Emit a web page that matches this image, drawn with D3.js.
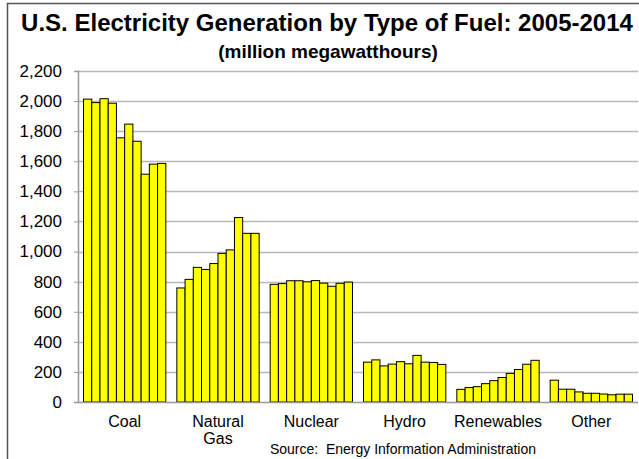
<!DOCTYPE html>
<html>
<head>
<meta charset="utf-8">
<script src="https://cdn.jsdelivr.net/npm/d3@7"></script>
<style>
  html, body { margin: 0; padding: 0; background: #fff; }
  svg { display: block; font-family: "Liberation Sans", Arial, sans-serif; }
</style>
</head>
<body>
<svg id="chart" width="639" height="459"></svg>
<script>
const titleText = "U.S. Electricity Generation by Type of Fuel: 2005-2014";
const subtitleText = "(million megawatthours)";
const sourceText = "Source:  Energy Information Administration";

const categories = ["Coal", "Natural Gas", "Nuclear", "Hydro", "Renewables", "Other"];
const categoryLines = [["Coal"], ["Natural", "Gas"], ["Nuclear"], ["Hydro"], ["Renewables"], ["Other"]];
const years = [2005, 2006, 2007, 2008, 2009, 2010, 2011, 2012, 2013, 2014];

const coal       = [2013, 1990, 2016, 1986, 1756, 1847, 1733, 1514, 1581, 1586];
const naturalGas = [ 758,  815,  895,  881,  920,  988, 1011, 1226, 1121, 1121];
const nuclear    = [ 782,  787,  806,  806,  799,  807,  790,  769,  789,  797];
const hydro      = [ 265,  280,  240,  252,  268,  254,  310,  265,  263,  250];
const renewables = [  84,   96,  102,  122,  142,  163,  190,  216,  251,  277];
const other      = [ 145,   85,   85,   67,   58,   58,   53,   48,   52,   52];

const seriesByCategory = [coal, naturalGas, nuclear, hydro, renewables, other];
const yTicks = [0, 200, 400, 600, 800, 1000, 1200, 1400, 1600, 1800, 2000, 2200];

const svg = d3.select("#chart");

// outer frame
svg.append("rect")
  .attr("x", 7.5).attr("y", 3.5)
  .attr("width", 700).attr("height", 520)
  .attr("fill", "none").attr("stroke", "#555").attr("stroke-width", 1.5);

// titles
svg.append("text").text(titleText)
  .attr("x", 327).attr("y", 31)
  .attr("text-anchor", "middle")
  .attr("font-size", 24).attr("font-weight", "bold").attr("fill", "#000");
svg.append("text").text(subtitleText)
  .attr("x", 328).attr("y", 58)
  .attr("text-anchor", "middle")
  .attr("font-size", 19).attr("font-weight", "bold").attr("fill", "#000");

const plotLeft = 78, plotRight = 638, plotTop = 71, plotBottom = 402;

const y = d3.scaleLinear().domain([0, 2200]).range([plotBottom, plotTop]);
const x0 = d3.scaleBand().domain(categories).range([plotLeft, plotRight])
  .paddingInner(0.118).paddingOuter(0.059);
const x1 = d3.scaleBand().domain(years).range([0, x0.bandwidth()]).padding(0);

// gridlines
svg.append("g")
  .selectAll("line")
  .data(yTicks.filter(d => d > 0))
  .join("line")
  .attr("x1", plotLeft).attr("x2", plotRight)
  .attr("y1", d => Math.round(y(d)) + 0.5).attr("y2", d => Math.round(y(d)) + 0.5)
  .attr("stroke", "#b8b8b8").attr("stroke-width", 1.5);

// bars
const groups = svg.append("g")
  .selectAll("g")
  .data(categories)
  .join("g")
  .attr("transform", d => `translate(${x0(d)},0)`);

groups.selectAll("rect")
  .data((d, i) => years.map((yr, j) => ({ year: yr, value: seriesByCategory[i][j] })))
  .join("rect")
  .attr("x", d => x1(d.year))
  .attr("y", d => y(d.value))
  .attr("width", x1.bandwidth())
  .attr("height", d => y(0) - y(d.value))
  .attr("fill", "#ffff00")
  .attr("stroke", "#000")
  .attr("stroke-width", 1);

// y axis
const yAxis = d3.axisLeft(y).tickValues(yTicks).tickSize(4).tickPadding(12)
  .tickFormat(d3.format(","));
const gy = svg.append("g").attr("transform", `translate(${plotLeft},0)`).call(yAxis);
gy.select(".domain").attr("stroke", "#999").attr("stroke-width", 1.5);
gy.selectAll(".tick line").attr("stroke", "#999");
gy.selectAll(".tick text").attr("font-size", 17).attr("fill", "#000")
  .attr("font-family", "Liberation Sans, Arial, sans-serif");

// baseline
svg.append("line")
  .attr("x1", plotLeft).attr("x2", plotRight)
  .attr("y1", y(0) + 0.5).attr("y2", y(0) + 0.5)
  .attr("stroke", "#999").attr("stroke-width", 1.5);

// x labels
const xl = svg.append("g").selectAll("text")
  .data(categories)
  .join("text")
  .attr("x", d => x0(d) + x0.bandwidth() / 2)
  .attr("y", 427)
  .attr("text-anchor", "middle")
  .attr("font-size", 16).attr("fill", "#000");
xl.selectAll("tspan")
  .data((d, i) => categoryLines[i])
  .join("tspan")
  .attr("x", function() { return this.parentNode.getAttribute("x"); })
  .attr("dy", (d, i) => i === 0 ? 0 : 17)
  .text(d => d);

// source
svg.append("text").text(sourceText)
  .attr("x", 403).attr("y", 454)
  .attr("text-anchor", "middle")
  .attr("font-size", 14).attr("fill", "#000")
  .attr("xml:space", "preserve").style("white-space", "pre");
</script>
</body>
</html>
